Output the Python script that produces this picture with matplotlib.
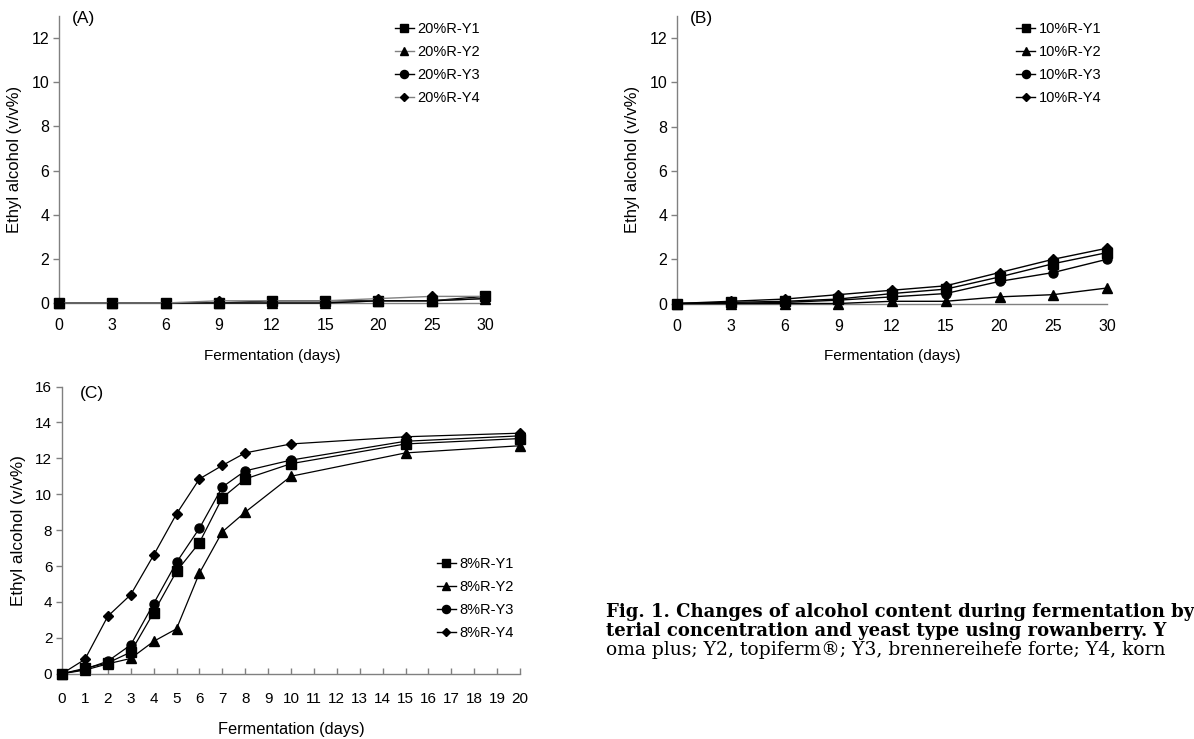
import matplotlib
matplotlib.use("Agg")
import matplotlib.pyplot as plt
from matplotlib.lines import Line2D

plt.rcParams['font.family'] = ['Liberation Sans', 'DejaVu Sans']

# ---- data ----
days_ab = ["0", "3", "6", "9", "12", "15", "20", "25", "30"]

a_labels = ["20%R-Y1", "20%R-Y2", "20%R-Y3", "20%R-Y4"]
a_y1 = [0, 0, 0, 0, 0.1, 0.1, 0.1, 0.1, 0.3]
a_y2 = [0, 0, 0, 0, 0, 0, 0.1, 0.1, 0.2]
a_y3 = [0, 0, 0, 0, 0, 0, 0.1, 0.1, 0.2]
a_y4 = [0, 0, 0, 0.1, 0.1, 0.1, 0.2, 0.3, 0.3]

b_labels = ["10%R-Y1", "10%R-Y2", "10%R-Y3", "10%R-Y4"]
b_y1 = [0, 0.05, 0.1, 0.2, 0.45, 0.65, 1.2, 1.8, 2.3]
b_y2 = [0, 0, 0, 0, 0.1, 0.1, 0.3, 0.4, 0.7]
b_y3 = [0, 0, 0.05, 0.15, 0.3, 0.45, 1.0, 1.4, 2.0]
b_y4 = [0, 0.1, 0.2, 0.4, 0.6, 0.8, 1.4, 2.0, 2.5]

c_days = [0, 1, 2, 3, 4, 5, 6, 7, 8, 10, 15, 20]
c_labels = ["8%R-Y1", "8%R-Y2", "8%R-Y3", "8%R-Y4"]
c_y1 = [0, 0.3, 0.6, 1.2, 3.4, 5.7, 7.3, 9.8, 10.85, 11.7, 12.8, 13.1]
c_y2 = [0, 0.2, 0.55, 0.85, 1.8, 2.5, 5.6, 7.9, 9.0, 11.0, 12.3, 12.7]
c_y3 = [0, 0.25, 0.7, 1.6, 3.9, 6.2, 8.1, 10.4, 11.3, 11.9, 12.95, 13.25]
c_y4 = [0, 0.8, 3.2, 4.4, 6.6, 8.9, 10.85, 11.6, 12.3, 12.8, 13.2, 13.4]

# caption as visible in the reference (cut by the page edge there)
caption_lines = [
    "Fig. 1. Changes of alcohol content during fermentation by",
    "terial concentration and yeast type using rowanberry. Y",
    "oma plus; Y2, topiferm\u00ae; Y3, brennereihefe forte; Y4, korn",
]

markers = ['s', '^', 'o', 'D']
msizes = [6.5, 6.5, 6.5, 4.8]
GRAY = '#808080'

W, H = 1194, 739
fig = plt.figure(figsize=(W / 100, H / 100), dpi=100)


def rect(x0, x1, ytop, ybot):
    return [x0 / W, 1 - ybot / H, (x1 - x0) / W, (ybot - ytop) / H]


def style_axes(ax, ticksize, xlsize, ylsize):
    for s in ['top', 'right']:
        ax.spines[s].set_visible(False)
    for s in ['left', 'bottom']:
        ax.spines[s].set_color(GRAY)
        ax.spines[s].set_linewidth(1.0)
    ax.tick_params(axis='y', direction='out', length=4, width=1, color=GRAY,
                   labelsize=ticksize, pad=3)
    ax.set_ylabel("Ethyl alcohol (v/v%)", fontsize=ylsize, labelpad=7)
    ax.set_xlabel("Fermentation (days)", fontsize=xlsize, labelpad=11)


def legend(ax, labels, colors, anchor):
    handles = [Line2D([0], [0], color=c, lw=1.0, marker=m, ms=ms * 0.9,
                      markerfacecolor='black', markeredgecolor='black')
               for c, m, ms in zip(colors, markers, msizes)]
    ax.legend(handles, labels, loc='upper left', bbox_to_anchor=anchor, frameon=False,
              fontsize=10.5, handlelength=1.3, handletextpad=0.25,
              labelspacing=0.62, borderaxespad=0)


def panel_ab(rect_, series, labels, colors, tag):
    ax = fig.add_axes(rect_)
    xs = list(range(len(days_ab)))
    for ys, m, ms, c in zip(series, markers, msizes, colors):
        ax.plot(xs, ys, color=c, lw=1.0, marker=m, ms=ms,
                markerfacecolor='black', markeredgecolor='black', clip_on=False, zorder=3)
    ax.set_xlim(0, len(days_ab) - 1)
    ax.set_ylim(0, 13)
    ax.set_yticks([0, 2, 4, 6, 8, 10, 12])
    ax.set_xticks(xs)
    ax.set_xticklabels(days_ab)
    style_axes(ax, 11.5, 11, 12)
    ax.tick_params(axis='x', length=0, labelsize=11.5, pad=11)
    ax.text(0.03, 0.99, tag, transform=ax.transAxes, fontsize=12.5, va='center', ha='left')
    legend(ax, labels, colors, (0.775, 1.0))
    return ax


axA = panel_ab(rect(59, 485, 16, 303), [a_y1, a_y2, a_y3, a_y4], a_labels,
               ['black', GRAY, 'black', GRAY], "(A)")

axB = panel_ab(rect(677, 1107, 16, 303.5), [b_y1, b_y2, b_y3, b_y4], b_labels,
               ['black'] * 4, "(B)")

axC = fig.add_axes(rect(62, 520, 386.5, 673.7))
for ys, m, ms in zip([c_y1, c_y2, c_y3, c_y4], markers, msizes):
    axC.plot(c_days, ys, color='black', lw=0.9, marker=m, ms=ms,
             markerfacecolor='black', markeredgecolor='black', clip_on=False, zorder=3)
axC.set_xlim(0, 20)
axC.set_ylim(0, 16)
axC.set_yticks(range(0, 17, 2))
axC.set_xticks(range(0, 21))
style_axes(axC, 11, 11.8, 12.3)
axC.tick_params(axis='x', direction='in', length=4, width=1, color=GRAY,
                labelsize=11, pad=13)
axC.xaxis.labelpad = 12
axC.text(0.04, 0.975, "(C)", transform=axC.transAxes, fontsize=12.5, va='center', ha='left')
legend(axC, c_labels, ['black'] * 4, (0.806, 0.4275))

cap_fonts = ['DejaVu Serif']
fig.text(606 / W, 1 - 612 / H, caption_lines[0], fontsize=13, fontweight='bold',
         family=cap_fonts, va='center', ha='left')
fig.text(606 / W, 1 - 631 / H, caption_lines[1], fontsize=13, fontweight='bold',
         family=cap_fonts, va='center', ha='left')
fig.text(606 / W, 1 - 650 / H, caption_lines[2], fontsize=13.5,
         family=cap_fonts, va='center', ha='left')

fig.savefig("out.png", dpi=100)
